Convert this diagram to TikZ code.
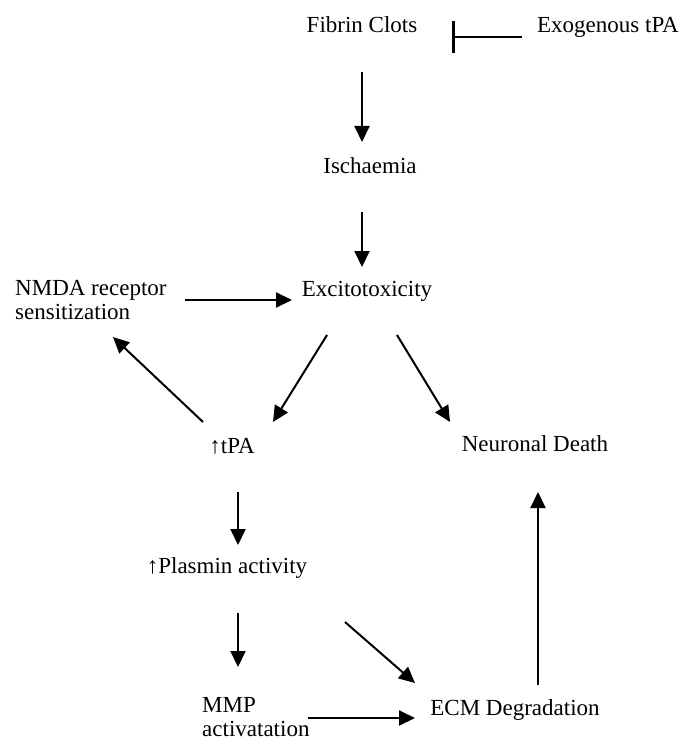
\documentclass[tikz,border=0pt]{standalone}
\usepackage{fontspec}
\setmainfont{Liberation Serif}
\usetikzlibrary{arrows.meta}

\tikzset{
  lbl/.style = {inner sep=0pt, font=\fontsize{23}{24}\selectfont},
  arr/.style = {line width=2pt, -{Triangle[length=16pt,width=15pt]}},
  inhib/.style = {line width=2pt, -{Bar[width=32pt,line width=3pt]}}
}

\begin{document}
\begin{tikzpicture}[x=1pt, y=-1pt]
\useasboundingbox (0, 0) rectangle (696, 741);

% labels
\node[lbl, anchor=base] (fib) at (362, 33) {Fibrin Clots};
\node[lbl, anchor=base] (exo) at (608, 33) {Exogenous tPA};
\node[lbl, anchor=base] (isch) at (370, 173) {Ischaemia};
\node[lbl, anchor=base] (exc) at (367, 296) {Excitotoxicity};
\node[lbl, anchor=north west, align=left] (nmda) at (15, 280) {NMDA receptor\\sensitization};
\node[lbl, anchor=base] (tpa) at (232, 453) {↑tPA};
\node[lbl, anchor=base] (death) at (535, 451) {Neuronal Death};
\node[lbl, anchor=base] (plas) at (227, 573) {↑Plasmin activity};
\node[lbl, anchor=north west, align=left] (mmp) at (202, 697) {MMP\\activatation};
\node[lbl, anchor=base] (ecm) at (515, 715) {ECM Degradation};

% connectors
\draw[inhib] ([shift={(-86, 4)}]exo.base) -- ([shift={(90, 4)}]fib.base);
\draw[arr] ([shift={(0, 39)}]fib.base) -- ([shift={(-8, -31)}]isch.base);
\draw[arr] ([shift={(-8, 39)}]isch.base) -- ([shift={(-5, -29)}]exc.base);
\draw[arr] ([shift={(170, 20)}]nmda.north west) -- ([shift={(-75, 4)}]exc.base);
\draw[arr] ([shift={(-29, -31)}]tpa.base) -- ([shift={(98, 57)}]nmda.north west);
\draw[arr] ([shift={(-40, 39)}]exc.base) -- ([shift={(41, -31)}]tpa.base);
\draw[arr] ([shift={(30, 39)}]exc.base) -- ([shift={(-85, -29)}]death.base);
\draw[arr] ([shift={(6, 39)}]tpa.base) -- ([shift={(11, -28)}]plas.base);
\draw[arr] ([shift={(11, 40)}]plas.base) -- ([shift={(36, -30)}]mmp.north west);
\draw[arr] ([shift={(118, 49)}]plas.base) -- ([shift={(-100, -32)}]ecm.base);
\draw[arr] ([shift={(106, 21)}]mmp.north west) -- ([shift={(-100, 3)}]ecm.base);
\draw[arr] ([shift={(23, -30)}]ecm.base) -- ([shift={(3, 41)}]death.base);
\end{tikzpicture}
\end{document}
